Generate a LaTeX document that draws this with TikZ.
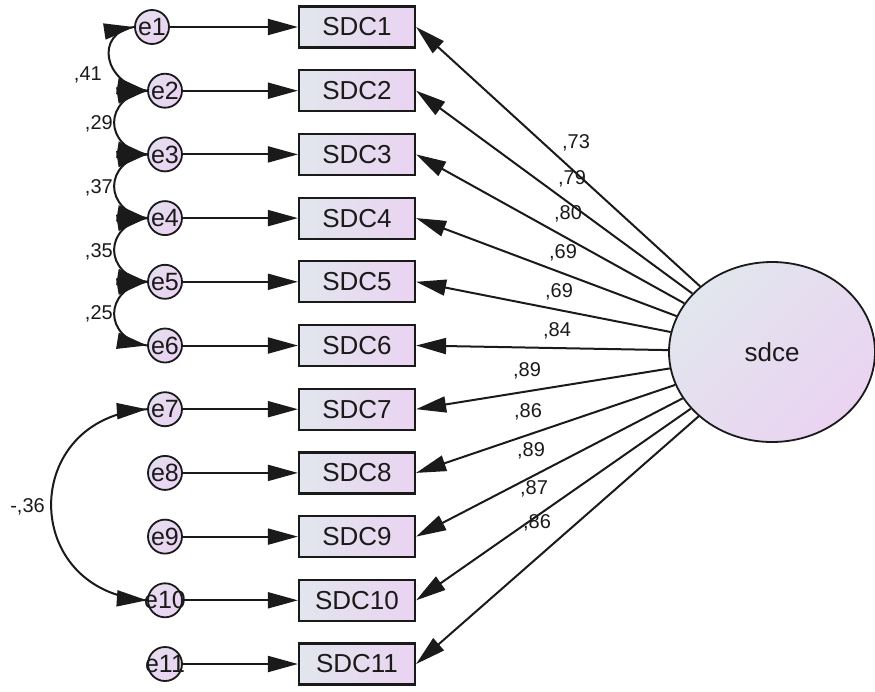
\documentclass[tikz,border=0pt]{standalone}
\usepackage{fontspec}
\setmainfont{Liberation Sans}
\usetikzlibrary{arrows.meta,shapes.geometric,decorations.markings}
\definecolor{gA}{HTML}{E2E6EE}
\definecolor{gB}{HTML}{EAD3F1}
\definecolor{ink}{HTML}{1A1A1A}
\begin{document}
\begin{tikzpicture}[x=1pt,y=-1pt,
  obs/.style={draw=ink, line width=2.2pt, minimum width=116pt, minimum height=41pt,
    inner sep=0pt, left color=gA, right color=gB, text=ink,
    font=\fontsize{26}{26}\selectfont},
  err/.style={circle, draw=ink, line width=1.8pt, minimum size=34pt, inner sep=0pt,
    top color=gA!50!gB, bottom color=gB, shading angle=45, text=ink,
    font=\fontsize{25}{25}\selectfont},
  lat/.style={ellipse, draw=ink, line width=1.8pt, minimum width=206pt, minimum height=180pt,
    inner sep=0pt, top color=gA, bottom color=gB, shading angle=45, text=ink,
    font=\fontsize{26}{26}\selectfont},
  tipT/.tip={Triangle[length=30pt,width=16pt]},
  arr/.style={line width=2pt, draw=ink, -tipT},
  cov/.style={line width=2pt, draw=ink, postaction={decorate},
    decoration={markings,
      mark=at position 0.001 with {\arrowreversed{Triangle[length=30pt,width=16pt]}},
      mark=at position 0.999 with {\arrow{Triangle[length=30pt,width=16pt]}}}},
  lbl/.style={font=\fontsize{20}{20}\selectfont, inner sep=0pt, text=ink},
]
\useasboundingbox (0,0) rectangle (875,691);

% latent
\node[lat] (sdce) at (772,352) {sdce};

% observed and errors
\foreach \i in {1,...,11}{
  \pgfmathsetmacro{\yy}{27+63.7*(\i-1)}
  \pgfmathsetmacro{\xe}{ifthenelse(\i==1,152,165)}
  \node[obs] (s\i) at (357,\yy) {SDC\i};
  \node[err] (e\i) at (\xe,\yy) {\makebox[0pt]{e\i}};
  \draw[arr] (e\i) -- (s\i);
  \draw[arr] (sdce) -- (s\i.east);
}

% covariances
\draw[cov] (e1.west) .. controls +(-40,6) and +(-44,-7) .. (e2.west);
\draw[cov] (e2.west) .. controls +(-44,7) and +(-44,-7) .. (e3.west);
\draw[cov] (e3.west) .. controls +(-44,7) and +(-44,-7) .. (e4.west);
\draw[cov] (e4.west) .. controls +(-44,7) and +(-44,-7) .. (e5.west);
\draw[cov] (e5.west) .. controls +(-44,7) and +(-44,-7) .. (e6.west);
\draw[cov] (e7.west) .. controls +(-128,8) and +(-128,-8) .. (e10.west);

% covariance labels
\node[lbl, anchor=east] (c12) at (102,75) {,41};
\node[lbl, anchor=east] (c23) at (113,124) {,29};
\node[lbl, anchor=east] (c34) at (113,188) {,37};
\node[lbl, anchor=east] (c45) at (113,252) {,35};
\node[lbl, anchor=east] (c56) at (113,314) {,25};
\node[lbl, anchor=east] (c710) at (45,507) {-,36};

% loading labels
\node[lbl] (l1) at (576,143) {,73};
\node[lbl] (l2) at (572,179) {,79};
\node[lbl] (l3) at (568,214) {,80};
\node[lbl] (l4) at (563,253) {,69};
\node[lbl] (l5) at (559,292) {,69};
\node[lbl] (l6) at (557,331) {,84};
\node[lbl] (l7) at (527,371) {,89};
\node[lbl] (l8) at (528,412) {,86};
\node[lbl] (l9) at (531,451) {,89};
\node[lbl] (l10) at (534,489) {,87};
\node[lbl] (l11) at (537,523) {,86};
\end{tikzpicture}
\end{document}
